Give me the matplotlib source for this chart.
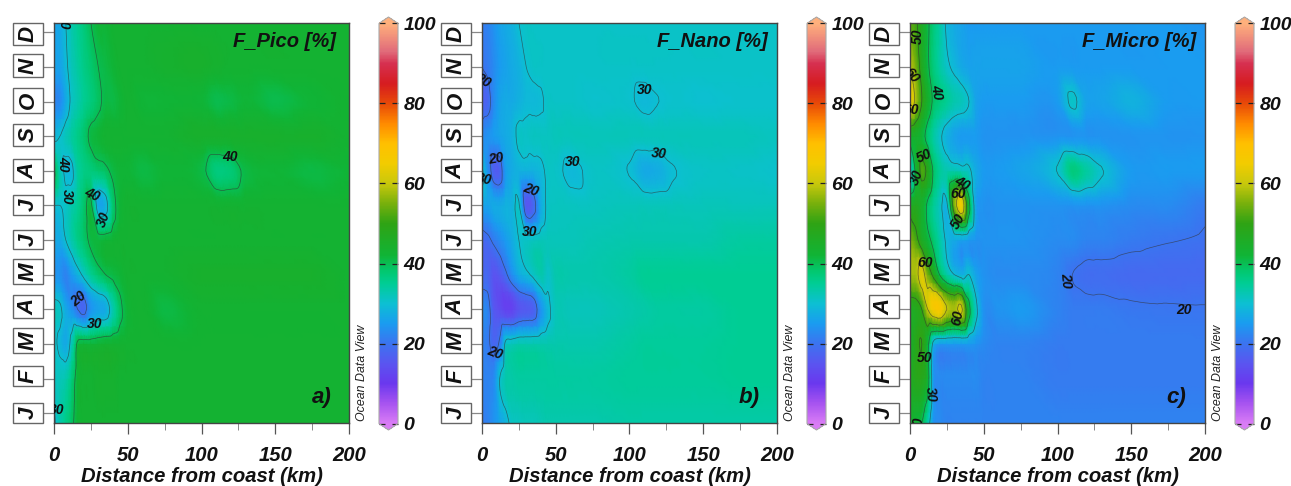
import matplotlib
matplotlib.use("Agg")
import matplotlib.pyplot as plt
from matplotlib.colors import LinearSegmentedColormap, Normalize
from matplotlib.patches import Rectangle
from matplotlib.ticker import MultipleLocator
from matplotlib.tri import Triangulation, CubicTriInterpolator, UniformTriRefiner
import numpy as np

plt.rcParams['font.family'] = ['Liberation Sans', 'DejaVu Sans']

W, H = 1291, 486

dist = [0, 4, 8, 12, 16, 20, 25, 30, 35, 40, 45, 50, 60, 75, 100, 110, 120, 130, 150, 175, 200]
month_y = [-0.31, 1, 2, 3, 4, 5, 6, 7, 8, 9, 10, 11.28]
months = ['J', 'F', 'M', 'A', 'M', 'J', 'J', 'A', 'S', 'O', 'N', 'D']
# top and bottom of the month boxes, in pixels, January first
box_top = [403, 366, 328, 295, 259, 230, 195, 159, 124, 88, 54, 23]
box_bot = [423, 386, 353, 318, 284, 249, 215, 182, 146, 113, 77, 45]

# rows go January -> December, columns follow dist
pico = [
    [29, 33, 36, 39, 42, 43, 43, 43, 43, 43, 43, 43, 43, 43, 43, 43, 43, 43, 43, 43, 43],
    [31, 32, 33, 37, 42, 43, 43, 43.5, 43.5, 43.5, 43, 43, 43, 43, 43, 43, 43, 43, 43, 43, 43],
    [31, 29, 27, 32, 41, 42, 42, 42.5, 43, 43, 43, 43, 43, 43, 43, 43, 43, 43, 43, 43, 43],
    [32, 31, 27, 24, 20, 18, 24, 26, 27, 33, 39, 42, 43, 41, 43, 43, 43, 43, 43, 43, 43],
    [24, 24, 22, 25, 28, 31, 35, 38, 40, 41, 42, 43, 43, 43, 44, 44, 44, 44, 44, 44, 43],
    [27, 27, 30, 33, 36, 38, 41, 41.5, 42, 42.5, 43, 43, 43, 43, 43, 43, 43, 43, 43, 43, 43],
    [30, 30, 31, 33, 35, 38, 41, 27, 28, 38, 42, 43, 43, 43, 43, 43, 43, 43, 43, 43, 43],
    [41, 33, 29, 29, 34, 36, 37, 38, 39, 41, 42, 42, 41, 42, 41, 37, 37.5, 41, 42, 41, 42],
    [29, 30, 32, 34, 36, 38, 41, 42, 43, 43, 43, 43, 43, 43, 44, 44, 44, 44, 44, 44, 43],
    [22, 23, 27, 31, 33, 35, 37, 39, 41, 41, 42, 43, 42, 42, 42, 40.4, 41, 42, 40.5, 42, 43],
    [26, 26, 29, 32, 34, 36, 38, 40, 41, 42, 43, 43, 43, 43.5, 44, 43.5, 43, 43, 43, 43, 43],
    [26, 27, 30, 33, 35, 37, 40, 42, 42, 43, 43, 43, 43, 43, 43, 43, 43, 43, 43, 43, 43],
]
nano = [
    [21, 22, 24, 26, 28, 31, 31.5, 32, 32, 32.5, 33, 33, 33, 33, 33.5, 33.5, 33.5, 33.5, 33.5, 33.5, 33.5],
    [22, 22, 23, 30, 33, 33.5, 34, 34, 34, 34, 34, 34, 34, 34, 34.5, 34.5, 34.5, 34.5, 34.5, 35, 35],
    [22, 21, 18, 21, 31, 32, 33, 33, 33, 33, 33, 33, 33, 33, 34, 34.5, 34.5, 34.5, 34.5, 35, 35],
    [23, 22, 16, 14, 12, 12, 15, 16, 17, 24, 29, 32, 32, 32, 33, 33.5, 34, 34, 34, 35, 35],
    [18, 18, 15, 16, 19, 23, 27, 29, 31, 33, 31, 33, 33, 33, 34, 35, 35, 35, 35, 35, 35],
    [18, 19, 21, 23, 25, 27, 30, 31, 31.5, 32, 32, 32, 32, 32.5, 33, 33, 33, 33, 33, 34, 34],
    [26, 26, 27, 27, 28, 28, 30.5, 16, 18, 27, 31, 31.5, 31.5, 31.5, 32, 32, 32, 32, 32, 32, 32],
    [31, 24, 17, 17, 25, 27, 28, 28, 28, 29, 31, 31, 29, 31, 29.8, 27, 27.5, 29.8, 31, 31, 30.5],
    [23, 24, 25, 26, 27, 28, 31, 31, 31.5, 31.5, 31.5, 32, 32, 32, 32, 32, 32, 32, 32, 32, 31.5],
    [17, 18, 23, 26, 27, 27, 28, 29, 29, 29.5, 31, 31, 31, 30.5, 30.5, 29, 30, 30.5, 30.2, 30.5, 30.5],
    [20, 21, 23, 25, 26, 27, 28, 30, 31, 31, 31, 31, 31, 31, 31, 31, 31, 31, 31, 31, 31],
    [21, 22, 24, 26, 27, 28, 30, 31, 31, 31, 31, 31, 31, 31, 31, 31, 31, 31, 31, 31, 31],
]
micro = [
    [44, 42, 40, 33, 24, 23, 22, 22, 22, 22, 22, 22, 22, 22, 22, 22, 22, 22, 22, 22, 22],
    [46, 48, 48, 43, 25, 23, 23, 23, 23, 23, 23, 22, 22, 22, 21, 21, 21, 21, 21, 21, 21],
    [44, 48, 50, 42, 28, 25, 25, 25, 25, 25, 24, 23, 22, 22, 21, 21, 21, 21, 21, 21, 21],
    [46, 47, 50, 60, 66, 67, 60, 58, 61, 42, 31, 24, 24, 25, 22, 21, 21, 21, 20.5, 20.3, 20.2],
    [58, 58, 63, 55, 48, 40, 34, 30, 28, 30, 26, 24, 23, 23, 22, 20, 19, 19, 18.5, 18.5, 18.5],
    [56, 52, 46, 42, 38, 34, 29, 27, 26, 25, 24, 24, 24, 24, 23, 23, 22, 22, 21, 20.2, 19.5],
    [46, 47, 44, 39, 35, 32, 29, 55, 65, 42, 26, 24, 24, 24, 24, 24, 24, 24, 23, 23, 21],
    [28, 42, 52, 48, 39, 35, 33, 33, 32, 31, 27, 25, 25, 26, 30.2, 37, 34, 30.3, 25, 25, 25],
    [44, 44, 42, 38, 34, 31, 28, 26, 25, 25, 25, 24, 24, 24, 24, 24, 24, 24, 24, 24, 24],
    [66, 58, 50, 44, 39, 37, 35, 33, 32, 30, 26, 25, 25, 25, 25, 31, 26, 26, 28, 25, 25],
    [60, 55, 47, 41, 37, 34, 31, 29, 27, 26, 26, 26, 26, 26, 25, 25, 25, 25, 25, 25, 25],
    [53, 51, 46, 41, 37, 34, 29, 27, 26, 25, 25, 25, 25, 25, 25, 25, 25, 25, 25, 25, 24],
]

contour_levels = [20, 30, 40, 50, 60]

# contour labels: text, km, month position, rotation
pico_labels = [('30', 6.8, 11.3, -90), ('40', 6, 7.2, -90), ('30', 8.8, 6.25, -90),
               ('40', 26, 6.3, -25), ('30', 34, 5.6, 70), ('20', 16.5, 3.3, 40),
               ('30', 27.4, 2.57, 0), ('40', 119, 7.4, 0), ('30', 1.5, 0.1, 0)]
nano_labels = [('20', 0.8, 9.6, -30), ('20', 9.5, 7.34, 10), ('30', 1.5, 6.76, -10),
               ('20', 33, 6.45, -20), ('30', 32, 5.23, 0), ('20', 8.8, 1.73, -20),
               ('30', 110.5, 9.33, 0), ('30', 61.7, 7.25, 0), ('30', 120, 7.49, -5)]
micro_labels = [('50', 5.4, 10.9, 90), ('60', 0.8, 9.77, -50), ('40', 18, 9.28, -80),
                ('60', 0.8, 8.76, 0), ('50', 9.5, 7.43, 25), ('30', 4.7, 6.82, 70),
                ('40', 35, 6.65, -30), ('60', 32.5, 6.33, 0), ('50', 32.5, 5.55, 60),
                ('60', 10, 4.34, 0), ('60', 32.5, 2.77, 80), ('20', 106, 3.84, -85),
                ('20', 186, 2.98, 0), ('50', 10, 1.58, 0), ('30', 14, 0.55, -85),
                ('40', 6, -0.35, 90)]

odv = LinearSegmentedColormap.from_list('odv', [
    (0.00, '#d97cf5'), (0.05, '#a653f0'), (0.10, '#6a38ee'), (0.15, '#5a55f0'),
    (0.20, '#3b74f0'), (0.25, '#1a9cf0'), (0.30, '#0cc0d2'), (0.35, '#00cd94'),
    (0.38, '#02c870'), (0.42, '#10b436'), (0.50, '#2fa314'), (0.55, '#78b00c'),
    (0.60, '#c8c80c'), (0.65, '#f2cc00'), (0.70, '#ffc000'), (0.75, '#ff8a00'),
    (0.80, '#e84a08'), (0.85, '#d61c20'), (0.90, '#d63050'), (0.93, '#e06a7a'),
    (1.00, '#ffb07c')], N=512)
odv.set_under('#d97cf5')
odv.set_over('#ffb07c')
norm = Normalize(0, 100)


def px_axes(fig, x0, x1, y0, y1):
    return fig.add_axes([x0 / W, 1 - y1 / H, (x1 - x0) / W, (y1 - y0) / H])


def smooth_tri(values):
    # let matplotlib's tri refiner round off the monthly grid
    nx, ny = len(dist), len(month_y)
    X, Y = np.meshgrid(dist, month_y)
    tris = []
    for j in range(ny - 1):
        for i in range(nx - 1):
            a = j * nx + i
            tris.append([a, a + 1, a + nx])
            tris.append([a + 1, a + nx + 1, a + nx])
    tri = Triangulation(X.ravel(), Y.ravel(), tris)
    z = np.array(values, dtype=float).ravel()
    refiner = UniformTriRefiner(tri)
    return refiner.refine_field(z, CubicTriInterpolator(tri, z, kind='geom'), subdiv=3)


def panel(fig, x0, values, title, letter, labels, title_right, letter_right):
    ax = px_axes(fig, x0, x0 + 295, 23, 423.5)
    tri, zi = smooth_tri(values)
    mesh = ax.tripcolor(tri, zi, cmap=odv, norm=norm, shading='gouraud')
    ax.tricontour(tri, zi, levels=contour_levels, colors='#333333', linewidths=0.5, alpha=0.65)
    ax.set_xlim(0, 200)
    ax.set_ylim(-0.3, 11.27)

    ax.xaxis.set_major_locator(MultipleLocator(50))
    ax.xaxis.set_minor_locator(MultipleLocator(25))
    ax.set_yticks(range(12))
    ax.set_yticklabels([])
    ax.tick_params(axis='x', which='major', length=8, width=0.9, color='#555555', pad=8)
    ax.tick_params(axis='x', which='minor', length=5, width=0.7, color='#888888')
    ax.tick_params(axis='y', length=8, width=0.9, color='#888888')
    for s in ax.spines.values():
        s.set_color('#444444')
        s.set_linewidth(1.0)
    for t in ax.get_xticklabels():
        t.set_fontsize(14.6)
        t.set_fontweight('bold')
        t.set_fontstyle('italic')
        t.set_color('#111111')
    ax.set_xlabel('Distance from coast (km)', fontsize=14.6, fontweight='bold',
                  fontstyle='italic', color='#111111', labelpad=1.5)

    ax.text(title_right, 0.955, title, transform=ax.transAxes, ha='right', va='center',
            fontsize=14.5, fontweight='bold', fontstyle='italic', color='#111111')
    ax.text(letter_right, 0.065, letter, transform=ax.transAxes, ha='right', va='center',
            fontsize=16, fontweight='bold', fontstyle='italic', color='#111111')
    for txt, km, m, rot in labels:
        ax.text(km, m, txt, ha='center', va='center', rotation=rot, clip_on=True,
                fontsize=10, fontweight='bold', fontstyle='italic', color='#111111',
                rotation_mode='anchor')

    # month boxes sit left of the axis
    for top, bot, letter_m in zip(box_top, box_bot, months):
        fig.add_artist(Rectangle(((x0 - 41) / W, 1 - bot / H), 30 / W, (bot - top) / H,
                                 transform=fig.transFigure, facecolor='white',
                                 edgecolor='#666666', linewidth=1.0))
        fig.text((x0 - 26) / W, 1 - (top + bot) / 2 / H, letter_m, rotation=90,
                 ha='center', va='center', fontsize=16, fontweight='bold',
                 fontstyle='italic', color='#111111')

    # colour bar, the tips are drawn inside its axes so it is a bit taller than the plot
    cax = px_axes(fig, x0 + 325, x0 + 344, 17, 430)
    cb = fig.colorbar(mesh, cax=cax, extend='both', extendfrac=0.016, ticks=range(0, 101, 20))
    cb.outline.set_edgecolor('#aaaaaa')
    cb.outline.set_linewidth(0.8)
    cax.tick_params(axis='y', direction='in', length=4, width=0.9, color='#222222',
                    left=True, right=True, pad=4)
    for t in cax.get_yticklabels():
        t.set_fontsize(14)
        t.set_fontweight('bold')
        t.set_fontstyle('italic')
        t.set_color('#111111')
    fig.text((x0 + 308) / W, 1 - 373 / H, 'Ocean Data View', rotation=90, ha='center',
             va='center', fontsize=8.9, fontstyle='italic', color='#222222')


fig = plt.figure(figsize=(W / 100, H / 100), dpi=100, facecolor='white')
panel(fig, 54, pico, 'F_Pico [%]', 'a)', pico_labels, 0.955, 0.94)
panel(fig, 482, nano, 'F_Nano [%]', 'b)', nano_labels, 0.97, 0.94)
panel(fig, 910, micro, 'F_Micro [%]', 'c)', micro_labels, 0.97, 0.935)
fig.savefig('out.png', dpi=100)
